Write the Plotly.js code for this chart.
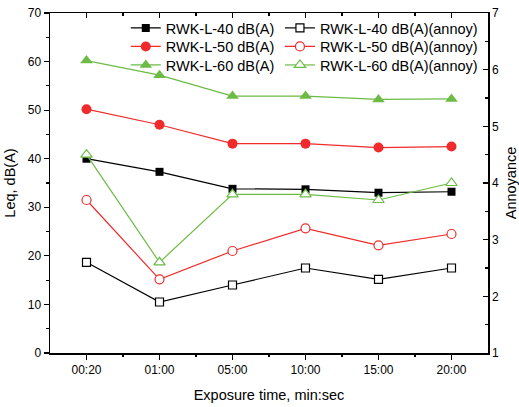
<!DOCTYPE html>
<html>
<head>
<meta charset="utf-8">
<script src="https://cdn.plot.ly/plotly-3.0.1.min.js"></script>
<style>html,body{margin:0;padding:0;background:#fff;}#chart{width:519px;height:407px;}</style>
</head>
<body>
<div id="chart"></div>
<script>
// Exposure-time categories
var categories = ['00:20', '01:00', '05:00', '10:00', '15:00', '20:00'];
// Leq, dB(A) (left axis)
var leq40 = [40.0, 37.3, 33.8, 33.7, 33.0, 33.2];
var leq50 = [50.2, 47.0, 43.1, 43.1, 42.3, 42.5];
var leq60 = [60.2, 57.2, 52.9, 52.9, 52.2, 52.3];
// Annoyance (right axis)
var annoy40 = [2.6, 1.9, 2.2, 2.5, 2.3, 2.5];
var annoy50 = [3.7, 2.3, 2.8, 3.2, 2.9, 3.1];
var annoy60 = [4.5, 2.6, 3.8, 3.8, 3.7, 4.0];
var names = ['RWK-L-40 dB(A)', 'RWK-L-50 dB(A)', 'RWK-L-60 dB(A)'];

var BLACK = '#000000', RED = '#ef2b2b', GREEN = '#6cbb45';
var FONT = 'Liberation Sans, Arial, sans-serif';

function filled(y, name, color, symbol, size, leg) {
  return {x: categories, y: y, name: name, type: 'scatter', mode: 'lines+markers',
    xaxis: 'x', yaxis: 'y', legend: leg,
    line: {color: color, width: 1.2},
    marker: {symbol: symbol, size: size, color: color, line: {width: 0}}};
}
function hollow(y, name, color, symbol, size, leg) {
  return {x: categories, y: y, name: name, type: 'scatter', mode: 'lines+markers',
    xaxis: 'x', yaxis: 'y2', legend: leg,
    line: {color: color, width: 1.2},
    marker: {symbol: symbol, size: size, color: '#ffffff', line: {width: 1.2, color: color}}};
}

var data = [
  filled(leq40, names[0], BLACK, 'square', 8, 'legend'),
  filled(leq50, names[1], RED, 'circle', 10, 'legend2'),
  filled(leq60, names[2], GREEN, 'triangle-up', 11, 'legend3'),
  hollow(annoy40, names[0] + '(annoy)', BLACK, 'square', 8, 'legend4'),
  hollow(annoy50, names[1] + '(annoy)', RED, 'circle', 9, 'legend5'),
  hollow(annoy60, names[2] + '(annoy)', GREEN, 'triangle-up', 10, 'legend6')
];

function leg(x, y) {
  return {x: x, y: y, xanchor: 'left', yanchor: 'middle', orientation: 'v',
    bgcolor: 'rgba(0,0,0,0)', borderwidth: 0, itemwidth: 30, font: {size: 14.5}};
}
var rowY = [0.956, 0.9015, 0.847];

var layout = {
  width: 519, height: 407,
  margin: {l: 50, r: 31, t: 13, b: 54},
  paper_bgcolor: '#fff', plot_bgcolor: '#fff',
  font: {family: FONT, color: '#000', size: 12},
  showlegend: true,
  xaxis: {type: 'category', range: [-0.5, 5.5], showgrid: false, zeroline: false,
    showline: true, linecolor: '#000', linewidth: 1.5,
    ticks: 'outside', ticklen: 5, tickwidth: 1.2, tickcolor: '#000',
    tickfont: {size: 12},
    title: {text: 'Exposure time, min:sec', font: {size: 14.5}, standoff: 14}},
  xaxis2: {overlaying: 'x', side: 'bottom', range: [-0.5, 5.5], showgrid: false, zeroline: false,
    showline: false, showticklabels: false, tickmode: 'array', tickvals: [0.5, 1.5, 2.5, 3.5, 4.5],
    ticks: 'outside', ticklen: 3, tickwidth: 1.2, tickcolor: '#000', anchor: 'y'},
  xaxis3: {overlaying: 'x', side: 'top', range: [-0.5, 5.5], showgrid: false, zeroline: false,
    showline: true, linecolor: '#000', linewidth: 1.5, showticklabels: false,
    tick0: 0, dtick: 1, ticks: 'inside', ticklen: 5, tickwidth: 1.2, tickcolor: '#000',
    minor: {dtick: 0.5, ticks: 'inside', ticklen: 3, tickwidth: 1.2, tickcolor: '#000'}, anchor: 'y'},
  yaxis: {range: [0, 70], dtick: 10, showgrid: false, zeroline: false,
    showline: true, linecolor: '#000', linewidth: 1.5,
    ticks: 'outside', ticklen: 5, tickwidth: 1.2, tickcolor: '#000',
    minor: {dtick: 5, ticks: 'outside', ticklen: 3, tickwidth: 1.2, tickcolor: '#000'},
    tickfont: {size: 12},
    title: {text: 'Leq, dB(A)', font: {size: 14.5}, standoff: 8}},
  yaxis2: {overlaying: 'y', side: 'right', range: [1, 7], dtick: 1, showgrid: false, zeroline: false,
    showline: true, linecolor: '#000', linewidth: 1.5,
    ticks: 'inside', ticklen: 5, tickwidth: 1.2, tickcolor: '#000',
    minor: {dtick: 0.5, ticks: 'inside', ticklen: 3, tickwidth: 1.2, tickcolor: '#000'},
    tickfont: {size: 12},
    title: {text: 'Annoyance', font: {size: 14.5}, standoff: 8}},
  legend: leg(0.173, rowY[0]),
  legend2: leg(0.173, rowY[1]),
  legend3: leg(0.173, rowY[2]),
  legend4: leg(0.525, rowY[0]),
  legend5: leg(0.525, rowY[1]),
  legend6: leg(0.525, rowY[2])
};

// dummy traces to activate the extra overlay axes (no visible marks)
data.push({x: [0], y: [null], xaxis: 'x2', yaxis: 'y', type: 'scatter', mode: 'markers', showlegend: false, hoverinfo: 'skip'});
data.push({x: [0], y: [null], xaxis: 'x3', yaxis: 'y', type: 'scatter', mode: 'markers', showlegend: false, hoverinfo: 'skip'});

Plotly.newPlot('chart', data, layout, {staticPlot: true, displayModeBar: false});
</script>
</body>
</html>
